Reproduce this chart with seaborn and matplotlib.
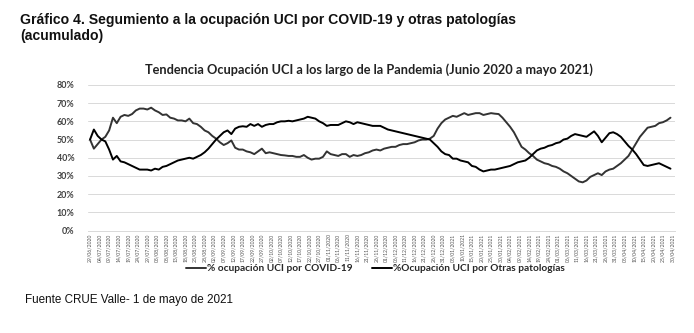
import numpy as np
import pandas as pd
import matplotlib
matplotlib.use("Agg")
import matplotlib.pyplot as plt
import seaborn as sns

# ---------------- data (one value every 2 days) ----------------
start_date = "2020-06-29"
end_date = "2021-04-30"

covid = [50, 45, 47.5, 50, 51.5, 55, 62, 59, 62.5, 63.5,
         63, 64, 66, 67, 67, 66.5, 67.5, 66, 65, 63.5,
         63.8, 62, 61.5, 60.5, 60.5, 60, 61.5, 59, 58.5, 57,
         55, 54, 52, 50.5, 48.5, 47, 48, 49.5, 45.5, 44.5,
         44.5, 43.5, 43, 42, 43.5, 45, 42.5, 43, 42.5, 42,
         41.5, 41.3, 41, 41, 40.5, 40.5, 41.5, 40, 39, 39.5,
         39.5, 40.5, 43.5, 42, 41.5, 41, 42, 42, 40.5, 41.5,
         41, 41.5, 42.5, 43, 44, 44.5, 44, 45, 45.5, 46,
         46, 47, 47.5, 47.5, 48, 48.5, 49.5, 50, 50, 50.5,
         52, 56, 59, 61, 62, 63, 62.5, 63.5, 64.5, 63.5,
         64, 64.5, 64.5, 63.5, 64, 64.5, 64.2, 64, 62, 59.5,
         57, 54, 50, 46, 44.5, 42.5, 41, 39, 38, 37,
         36.5, 35.5, 35, 34, 32.5, 31.5, 30, 28.5, 27, 26.5,
         27.5, 29.5, 30.5, 31.5, 30.5, 32.5, 33.5, 34, 35.5, 37,
         39, 41, 44.5, 48, 51.5, 54, 56.5, 57, 57.5, 59,
         59.5, 60.5, 62]

otras = [50, 55.5, 52, 50, 49, 44.5, 39, 41, 38, 37.5,
         36.5, 35.5, 34.5, 33.5, 33.5, 33.5, 33, 34, 33.5, 35,
         35.5, 36.5, 37.5, 38.5, 39, 39.5, 40, 39.5, 40.5, 41.5,
         43, 45, 47.5, 50, 52, 54, 55, 53, 56, 57,
         57.3, 57, 58.5, 57.5, 58.5, 57, 58, 58.5, 58.5, 59.5,
         60, 60, 60.3, 60, 60.5, 61, 61.5, 62.5, 62, 61.5,
         60, 59, 57.5, 58, 58, 58, 59, 60, 59.5, 58.5,
         59.5, 59, 58.5, 58, 57.5, 57.5, 57.5, 56.5, 55.5, 55,
         54.5, 54, 53.5, 53, 52.5, 52, 51.5, 51, 50.5, 50,
         48, 46, 43.5, 42, 41.5, 39.5, 39.5, 38.5, 38, 37.5,
         35.5, 35, 33.5, 32.5, 33, 33.5, 33.5, 34, 34.5, 35,
         35.5, 36.5, 37.5, 38, 38.5, 40, 42, 44, 45, 45.5,
         46.5, 47, 48, 48.5, 50, 50.5, 52, 53, 52.5, 52,
         51.5, 53, 54.5, 52, 48.5, 51, 53.5, 54, 53, 51.5,
         49, 46.5, 44.5, 42, 39, 36, 35.5, 36, 36.5, 37,
         36, 35, 34]

series_names = ["% ocupación UCI por COVID-19", "%Ocupación UCI por Otras patologías"]
y_ticks = [0, 10, 20, 30, 40, 50, 60, 70, 80]

title_main = "Gráfico 4. Segumiento a la ocupación UCI por COVID-19 y otras patologías\n(acumulado)"
title_chart = "Tendencia Ocupación UCI a los largo de la Pandemia (Junio 2020 a mayo 2021)"
source_text = "Fuente CRUE Valle- 1 de mayo de 2021"

# ---------------- build table ----------------
dates = pd.date_range(start_date, periods=len(covid), freq="2D")
tick_dates = pd.date_range(start_date, end_date, freq="5D")
tick_labels = [d.strftime("%d/%m/%Y") for d in tick_dates]

df = pd.DataFrame({
    "fecha": list(dates) + list(dates),
    "valor": covid + otras,
    "serie": [series_names[0]] * len(covid) + [series_names[1]] * len(otras),
})

sns.set_theme(style="white")
plt.rcParams['font.family'] = ['Lato', 'DejaVu Sans']

fig = plt.figure(figsize=(6.94, 3.33), dpi=100)
ax = fig.add_axes([0.127, 0.3075, 0.846, 0.4375])

sns.lineplot(data=df, x="fecha", y="valor", hue="serie",
             palette=["#333333", "#000000"], linewidth=1.4, ax=ax, legend=True)

# axes styling
ax.set_ylim(0, 80)
ax.set_yticks(y_ticks)
ax.set_yticklabels([f"{v}%" for v in y_ticks], fontsize=6.4, fontweight="bold", color="#404040")
ax.set_xlim(pd.Timestamp(start_date) - pd.Timedelta(days=1), pd.Timestamp(end_date) + pd.Timedelta(days=1.5))
ax.set_xticks(tick_dates)
ax.set_xticklabels(tick_labels, rotation=90, fontsize=3.7, color="#555555")
ax.tick_params(axis="x", length=0, pad=2)
ax.tick_params(axis="y", length=0, pad=10)
ax.yaxis.grid(True, color="#d9d9d9", linewidth=0.7)
ax.xaxis.grid(False)
for s in ["top", "right", "left"]:
    ax.spines[s].set_visible(False)
ax.spines["bottom"].set_color("#d9d9d9")
ax.spines["bottom"].set_linewidth(0.7)
ax.set_xlabel("")
ax.set_ylabel("")

# legend
handles, labels = ax.get_legend_handles_labels()
ax.get_legend().remove()
fig.legend(handles, labels, loc="center", bbox_to_anchor=(0.541, 0.193), ncol=2,
           frameon=False, handlelength=1.9, handletextpad=0.1, columnspacing=2.0,
           prop={"size": 7.3, "weight": "bold"})

# titles and source
fig.text(0.532, 0.79, title_chart, ha="center", va="center", fontsize=9.2,
         fontweight="bold", color="#222222")
fig.text(0.029, 0.962, title_main, ha="left", va="top", fontsize=10.1,
         fontweight="bold", family=["Liberation Sans", "DejaVu Sans"],
         color="#111111", linespacing=1.2)
fig.text(0.036, 0.099, source_text, ha="left", va="center", fontsize=8.4,
         family=["Liberation Sans", "DejaVu Sans"], color="#111111")

fig.savefig("out.png", dpi=100)
